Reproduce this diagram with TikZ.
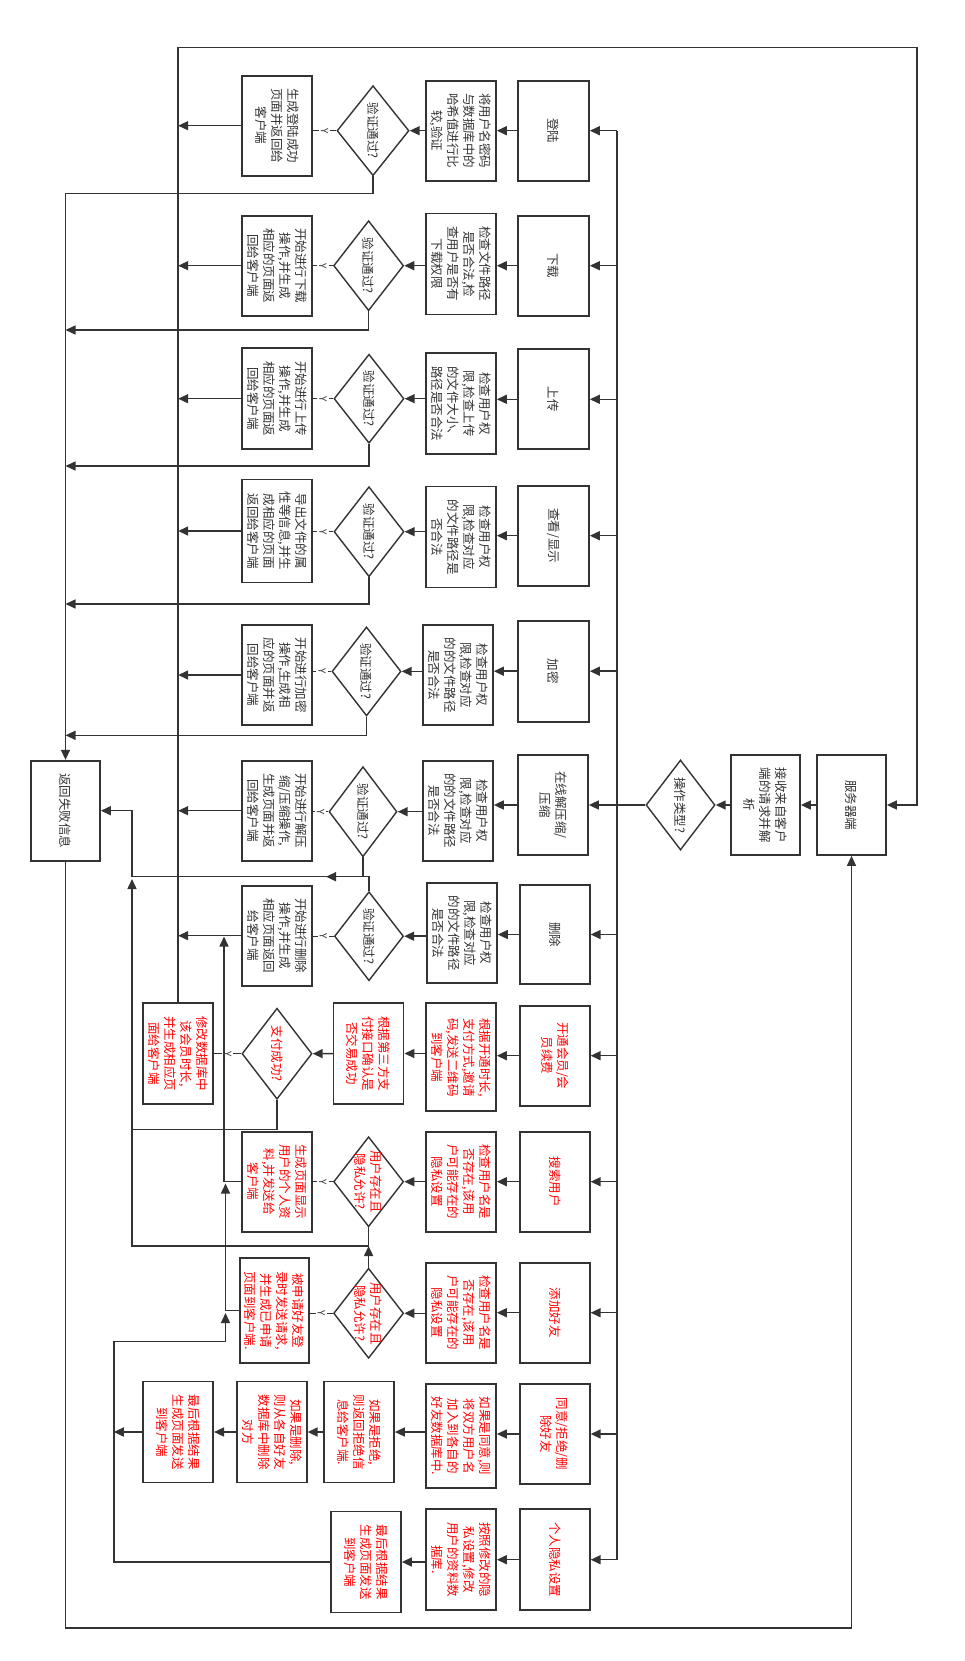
\documentclass[tikz,border=0pt]{standalone}
\usepackage{fontspec}
\setmainfont{Noto Sans CJK SC}
\usetikzlibrary{arrows.meta,shapes.geometric}
\definecolor{lc}{HTML}{333333}
\definecolor{rc}{HTML}{FF0000}
\tikzset{
 bx/.style={draw=lc,line width=1.7pt,inner sep=0pt,fill=white},
 dm/.style={diamond,draw=lc,line width=1.4pt,inner sep=0pt,fill=white},
 tx/.style={rotate=-90,align=center,inner sep=0pt,font=\fontsize{12.5}{16}\selectfont,text=lc},
 rtx/.style={tx,text=rc},
 ln/.style={draw=lc,line width=1.5pt},
 ar/.style={ln,-{Triangle[length=10pt,width=9pt]}},
 yln/.style={draw=lc,line width=1pt},
 ylab/.style={rotate=-90,fill=white,inner sep=2pt,font=\fontsize{10}{10}\selectfont,text=lc},
}
\newcommand\Bx[7][tx]{\node[bx,minimum width=#5pt,minimum height=#6pt] (#2) at (#3,#4) {}; \node[#1] at (#2) {#7};}
\newcommand\Dm[7][tx]{\node[dm,minimum width=#5pt,minimum height=#6pt] (#2) at (#3,#4) {}; \node[#1] at (#2) {#7};}
\begin{document}
\begin{tikzpicture}[x=1pt,y=-1pt]
\fill[white] (0,0) rectangle (965,1661);
\useasboundingbox (0,0) rectangle (965,1661);
% right side
\Bx{srv}{851.5}{805}{69}{100}{服务器端}
\Bx{rcv}{765.5}{805}{69}{100}{接收来自客户\\端的请求并解\\析}
\Dm{opt}{680.5}{805}{69}{90}{操作类型?}
\Bx{fail}{65.5}{810.7}{69}{100}{返回失败信息}
% row 1
\Bx{o1}{553.5}{130.7}{71}{100}{登陆}
\Bx{c1}{461}{130.7}{70}{100}{将用户名密码\\与数据库中的\\哈希值进行比\\较,验证}
\Dm{d1}{373}{130.7}{72}{90}{验证通过?}
\Bx{r1}{277}{125.7}{70}{100}{生成登陆成功\\页面并返回给\\客户端}
% row 2
\Bx{o2}{553.5}{265.7}{71}{100}{下载}
\Bx{c2}{461}{264}{70}{101}{检查文件路径\\是否合法,检\\查用户是否有\\下载权限}
\Dm{d2}{368.6}{265.7}{70}{90}{验证通过?}
\Bx{r2}{277}{265.7}{70}{100}{开始进行下载\\操作,并生成\\相应的页面返\\回给客户端}
% row 3
\Bx{o3}{553.5}{399.3}{71}{100}{上传}
\Bx{c3}{461}{403.7}{70}{101}{检查用户权\\限,检查上传\\的文件大小、\\路径是否合法}
\Dm{d3}{369}{398.7}{70}{89}{验证通过?}
\Bx{r3}{277}{398.7}{70}{101}{开始进行上传\\操作,并生成\\相应的页面返\\回给客户端}
% row 4
\Bx{o4}{553.5}{535.7}{71}{100}{查看/显示}
\Bx{c4}{461}{537}{70}{101}{检查用户权\\限,检查对应\\的文件路径是\\否合法}
\Dm{d4}{369}{531.7}{70}{90}{验证通过?}
\Bx{r4}{277}{531}{70}{103}{导出文件的属\\性等信息,并生\\成相应的页面\\返回给客户端}
% row 5
\Bx{o5}{553.5}{671.2}{71}{101}{加密}
\Bx{c5}{458}{675}{70}{100}{检查用户权\\限,检查对应\\的的文件路径\\是否合法}
\Dm{d5}{366.5}{671.4}{69}{89}{验证通过?}
\Bx{r5}{277}{675}{70}{100}{开始进行加密\\操作,生成相\\应的页面并返\\回给客户端}
% row 6
\Bx{o6}{553}{805}{70}{100}{在线解压缩/\\压缩}
\Bx{c6}{458}{810.7}{70}{100}{检查用户权\\限,检查对应\\的的文件路径\\是否合法}
\Dm{d6}{363}{811.7}{68}{90}{验证通过?}
\Bx{r6}{277}{810.7}{70}{100}{开始进行解压\\缩/压缩操作,\\生成页面并返\\回给客户端}
% row 7
\Bx{o7}{554.8}{934.5}{70}{99}{删除}
\Bx{c7}{462}{933.2}{70}{100}{检查用户权\\限,检查对应\\的的文件路径\\是否合法}
\Dm{d7}{369}{936.2}{69}{89}{验证通过?}
\Bx{r7}{277}{935.7}{70}{100}{开始进行删除\\操作,并生成\\相应页面返回\\给客户端}
% row 8
\Bx[rtx]{o8}{554.8}{1055.7}{70}{100}{开通会员/会\\员续费}
\Bx[rtx]{c8}{461}{1057.3}{70}{108}{根据开通时长,\\支付方式,邀请\\码,发送二维码\\到客户端}
\Bx[rtx]{t8}{368.6}{1053.5}{70}{101}{根据第三方支\\付接口确认是\\否交易成功}
\Dm[rtx]{d8}{277}{1053.7}{70}{91}{支付成功?}
\Bx[rtx]{m8}{178.2}{1053.5}{70}{101}{修改数据库中\\该会员时长,\\并生成相应页\\面给客户端}
% row 9
\Bx[rtx]{o9}{554.8}{1181.7}{70}{100}{搜索用户}
\Bx[rtx]{c9}{461}{1181.7}{70}{100}{检查用户名是\\否存在,该用\\户可能存在的\\隐私设置}
\Dm[rtx]{d9}{368.6}{1181.7}{70}{90}{用户存在且\\隐私允许?}
\Bx[rtx]{r9}{277}{1181.7}{70}{100}{生成页面显示\\用户的个人资\\料,并发送给\\客户端}
% row 10
\Bx[rtx]{o10}{554.8}{1312.7}{70}{100}{添加好友}
\Bx[rtx]{c10}{461}{1312.7}{70}{100}{检查用户名是\\否存在,该用\\户可能存在的\\隐私设置}
\Dm[rtx]{d10}{368.6}{1313.3}{70}{90}{用户存在且\\隐私允许?}
\Bx[rtx]{r10}{274.5}{1310.5}{69}{105}{被申请好友登\\录时发送请求,\\并生成已申请\\页面到客户端.}
% row 11
\Bx[rtx]{o11}{554.8}{1434}{70}{100}{同意/拒绝/删\\除好友}
\Bx[rtx]{c11}{461}{1436.2}{70}{104}{如果是同意,则\\将双方用户名\\加入到各自的\\好友数据库中.}
\Bx[rtx]{j11}{359}{1432}{70}{101}{如果是拒绝,\\则返回拒绝信\\息给客户端.}
\Bx[rtx]{s11}{271.8}{1432}{70}{101}{如果是删除,\\则从各自好友\\数据库中删除\\对方}
\Bx[rtx]{f11}{178.2}{1432}{70}{101}{最后根据结果\\生成页面发送\\到客户端}
% row 12
\Bx[rtx]{o12}{554.8}{1559.7}{70}{101}{个人隐私设置}
\Bx[rtx]{c12}{461}{1559.7}{70}{101}{按照修改的隐\\私设置,修改\\用户的资料数\\据库.}
\Bx[rtx]{f12}{366}{1562}{70}{101}{最后根据结果\\生成页面发送\\到客户端}
% coordinates
\coordinate (bT) at (617,130.7);
\coordinate (bB) at (617,1559.7);
\coordinate (tl) at (178.2,47.3);
\coordinate (tr) at (917,47.3);
\coordinate (fa) at (65.5,193.3);
\coordinate (f2) at (65.5,330);
\coordinate (f3) at (65.5,466);
\coordinate (f4) at (65.5,604);
\coordinate (f5) at (65.5,735.3);
\coordinate (g7) at (132,876.7);
\coordinate (g6) at (326,876.7);
\coordinate (g8) at (132,1129.3);
\coordinate (g8e) at (132,879);
\coordinate (g9) at (132,1246);
\coordinate (g10) at (368.6,1246);
\coordinate (h7) at (224,936.5);
\coordinate (h9) at (225.5,1183.5);
\coordinate (h10) at (225.5,1313);
\coordinate (k1) at (113.8,1341.7);
\coordinate (k2) at (113.8,1432);
\coordinate (bl) at (65.5,1628);
\coordinate (br) at (851.5,1628);
% main flow
\draw[ar] (srv.west) -- (rcv.east);
\draw[ar] (rcv.west) -- (opt.east);
\draw[ln] (opt.west) -- (opt.west -| bT);
\draw[ln] (bT) -- (bB);
\foreach \i in {1,...,12} {
  \draw[ar] (bT |- o\i.east) -- (o\i.east);
  \draw[ar] (o\i.west) -- (c\i.east |- o\i.west);
}
\foreach \i in {1,...,7,9,10} {
  \draw[ar] (c\i.west |- d\i.east) -- (d\i.east);
  \draw[yln] (d\i.west) -- (r\i.east |- d\i.west) node[midway,ylab] {Y};
}
\foreach \i in {1,...,7} {
  \draw[ar] (r\i.west) -- (r\i.west -| tl);
}
% row 8
\draw[ar] (c8.west |- t8.east) -- (t8.east);
\draw[ar] (t8.west) -- (d8.east);
\draw[yln] (d8.west) -- (m8.east |- d8.west) node[midway,ylab] {Y};
% row 11, 12
\draw[ar] (c11.west |- j11.east) -- (j11.east);
\draw[ar] (j11.west) -- (s11.east);
\draw[ar] (s11.west) -- (f11.east);
\draw[ar] (f11.west) -- (k2);
\draw[ar] (c12.west |- f12.east) -- (f12.east);
% return to server
\draw[ar] (m8.north) -- (tl) -- (tr) |- (srv.east);
\draw[ar] (fail.south) -- (bl) -- (br) -- (srv.south);
% failure bus 1
\draw[ar] (d1.south) |- (fa) -- (fail.north);
\draw[ar] (d2.south) |- (f2);
\draw[ar] (d3.south) |- (f3);
\draw[ar] (d4.south) |- (f4);
\draw[ar] (d5.south) |- (f5);
% failure bus 2
\draw[ar] (d7.north) |- (g7) |- (fail.east);
\draw[ar] (d6.south) |- (g6);
\draw[ar] (d8.south) |- (g8) -- (g8e);
\draw[ln] (d9.south) |- (g9) -- (g8);
\draw[ar] (d10.north) -- (g10);
% result bus
\draw[ar] (r9.west) -| (h7);
\draw[ar] (r10.west) -| (h9);
\draw[ar] (f12.west) -| (k1) -| (h10);
\end{tikzpicture}
\end{document}
